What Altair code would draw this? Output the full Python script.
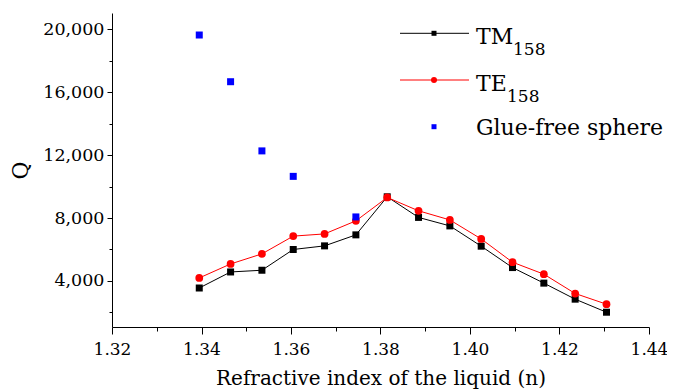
import altair as alt
import pandas as pd

# ---- data ----
n_values = [1.3395, 1.3465, 1.3535, 1.3605, 1.3675, 1.3745, 1.3815,
            1.3885, 1.3955, 1.4025, 1.4095, 1.4165, 1.4235, 1.4305]
tm_q = [3550, 4570, 4680, 6000, 6230, 6930, 9350,
        8040, 7500, 6210, 4850, 3860, 2840, 2010]
te_q = [4190, 5080, 5720, 6850, 6990, 7820, 9310,
        8460, 7880, 6670, 5190, 4430, 3200, 2520]
glue_n = [1.3395, 1.3465, 1.3535, 1.3605, 1.3745]
glue_q = [19640, 16670, 12270, 10650, 8070]

x_ticks = [1.32, 1.33, 1.34, 1.35, 1.36, 1.37, 1.38, 1.39, 1.40, 1.41, 1.42, 1.43, 1.44]
y_ticks = [2000, 4000, 6000, 8000, 10000, 12000, 14000, 16000, 18000, 20000]

FONT = "DejaVu Serif"

tm_df = pd.DataFrame({"n": n_values, "Q": tm_q})
te_df = pd.DataFrame({"n": n_values, "Q": te_q})
glue_df = pd.DataFrame({"n": glue_n, "Q": glue_q})

x_scale = alt.Scale(domain=[1.32, 1.44], nice=False, zero=False)
y_scale = alt.Scale(domain=[1070, 21040], nice=False, zero=False)

common = dict(
    labelFont=FONT, titleFont=FONT, labelColor="black", titleColor="black",
    titleFontWeight="normal", domainColor="black", domainWidth=1,
    tickColor="black", tickWidth=1, labelOverlap=False, grid=False,
    labelFlush=False, labelBound=False,
)

x_axis = alt.Axis(
    values=x_ticks,
    labelExpr="round(datum.value*100) % 2 == 0 ? format(datum.value, '.2f') : ''",
    tickSize={"condition": {"test": "round(datum.value*100) % 2 == 0", "value": 7}, "value": 4},
    title="Refractive index of the liquid (n)",
    titleFontSize=20,
    titlePadding=11,
    labelFontSize=17,
    labelPadding=7,
    **common,
)
y_axis = alt.Axis(
    values=y_ticks,
    labelExpr="round(datum.value) % 4000 == 0 ? format(datum.value, ',') : ''",
    tickSize={"condition": {"test": "round(datum.value) % 4000 == 0", "value": 5}, "value": 3},
    title="Q",
    titleFontSize=22,
    titlePadding=10,
    labelFontSize=17.5,
    labelPadding=3,
    **common,
)

X = alt.X("n:Q", scale=x_scale, axis=x_axis)
Y = alt.Y("Q:Q", scale=y_scale, axis=y_axis)

tm_line = alt.Chart(tm_df).mark_line(color="black", strokeWidth=1).encode(x=X, y=Y)
tm_pts = alt.Chart(tm_df).mark_point(shape="square", filled=True, color="black",
                                     size=49, opacity=1).encode(x=X, y=Y)
te_line = alt.Chart(te_df).mark_line(color="#ff0000", strokeWidth=1).encode(x=X, y=Y)
te_pts = alt.Chart(te_df).mark_point(shape="circle", filled=True, color="#ff0000",
                                     size=60, opacity=1).encode(x=X, y=Y)
glue_pts = alt.Chart(glue_df).mark_point(shape="square", filled=True, color="#0000ff",
                                         size=49, opacity=1).encode(x=X, y=Y)

# ---- hand-drawn legend (subscripts need separate text) ----
one = alt.Data(values=[{}])
def rule(y, color):
    return alt.Chart(one).mark_rule(color=color, strokeWidth=1).encode(
        x=alt.value(288), x2=alt.value(357), y=alt.value(y))
def sym(y, shape, color, size):
    return alt.Chart(one).mark_point(shape=shape, filled=True, color=color, size=size,
                                     opacity=1).encode(x=alt.value(322), y=alt.value(y))
def txt(x, y, s, size):
    return alt.Chart(one).mark_text(text=s, font=FONT, fontSize=size, align="left",
                                    baseline="alphabetic", color="black").encode(
        x=alt.value(x), y=alt.value(y))

legend = [
    rule(20.3, "black"), sym(20.3, "square", "black", 25),
    txt(364, 31, "TM", 22), txt(401, 42, "158", 17),
    rule(67, "#ff0000"), sym(67, "circle", "#ff0000", 36),
    txt(364, 77.7, "TE", 22), txt(395, 88.7, "158", 17),
    sym(113.7, "square", "#0000ff", 25),
    txt(364, 122, "Glue-free sphere", 22),
]

chart = alt.layer(tm_line, tm_pts, te_line, te_pts, glue_pts, *legend).properties(
    width=537, height=314,
    background="white",
    autosize=alt.AutoSizeParams(type="none"),
    padding={"left": 104, "top": 5, "right": 18, "bottom": 65},
).configure_view(stroke=None)

chart.save("out.html", embed_options={"renderer": "svg", "actions": False})
